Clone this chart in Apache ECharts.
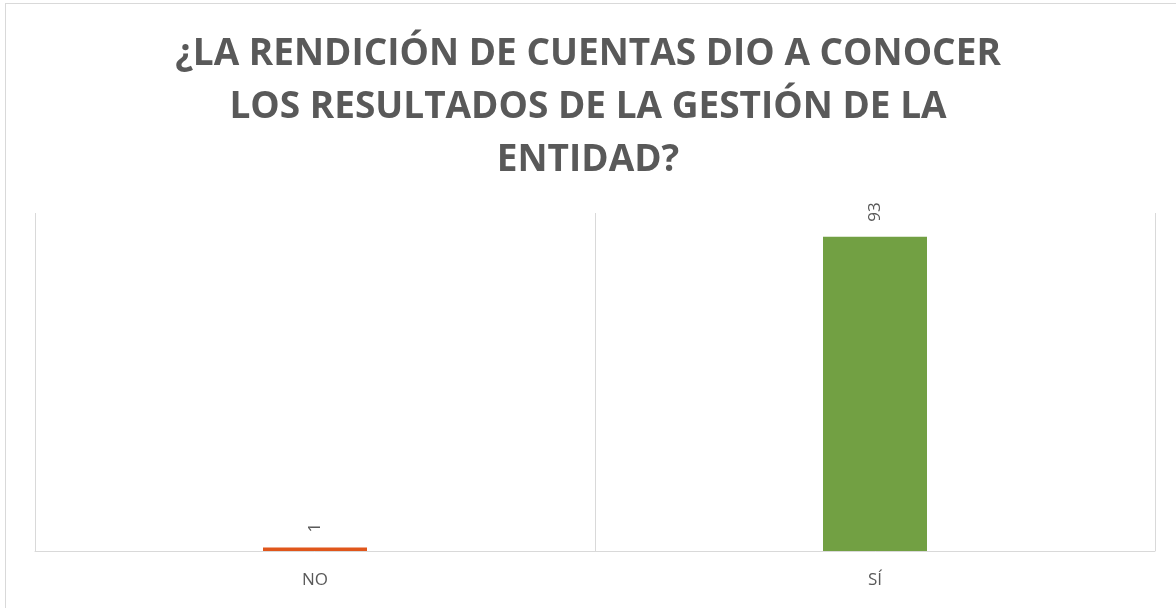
<!DOCTYPE html>
<html>
<head>
<meta charset="utf-8">
<script src="https://cdn.jsdelivr.net/npm/echarts@6/dist/echarts.min.js"></script>
<style>
  html, body { margin: 0; padding: 0; background: #fff; }
  #chart { position: absolute; left: 0; top: 0; width: 1176px; height: 608px; }
  #frame { position: absolute; left: 5px; top: 3px; width: 1200px; height: 640px; border: 1px solid #d9d9d9; pointer-events: none; }
</style>
</head>
<body>
<div id="chart"></div>
<div id="frame"></div>
<script>
// data
const titleText = '¿LA RENDICIÓN DE CUENTAS DIO A CONOCER\nLOS RESULTADOS DE LA GESTIÓN DE LA\nENTIDAD?';
const categories = ['NO', 'SÍ'];
const values = [1, 93];
const barColors = ['#E0561B', '#72A043'];

const chart = echarts.init(document.getElementById('chart'), null, { renderer: 'canvas' });

chart.setOption({
  backgroundColor: 'transparent',
  animation: false,
  title: {
    text: titleText,
    left: 'center',
    top: 23,
    textStyle: {
      fontFamily: 'Open Sans',
      fontWeight: 'bold',
      fontSize: 37,
      lineHeight: 53,
      color: '#595959',
    },
  },
  grid: { left: 35, right: 21, top: 213, bottom: 57 },
  xAxis: {
    type: 'category',
    data: categories,
    axisLine: { lineStyle: { color: '#d9d9d9', width: 1 } },
    axisTick: { show: false },
    splitLine: { show: true, interval: 0, lineStyle: { color: '#d9d9d9', width: 1 } },
    axisLabel: { color: '#595959', fontFamily: 'Open Sans', fontSize: 17, margin: 21 },
  },
  yAxis: {
    type: 'value',
    min: 0,
    max: 100,
    show: false,
  },
  series: [
    {
      type: 'bar',
      data: values.map((v, i) => ({ value: v, itemStyle: { color: barColors[i] } })),
      barWidth: 104,
      label: {
        show: true,
        position: 'top',
        rotate: 90,
        align: 'left',
        verticalAlign: 'middle',
        distance: 15,
        color: '#595959',
        fontFamily: 'Open Sans',
        fontSize: 17,
      },
    },
  ],
});
</script>
</body>
</html>
